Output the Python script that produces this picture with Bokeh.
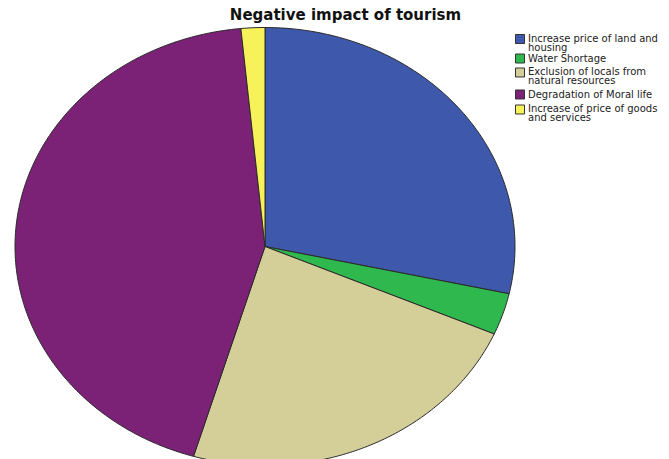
import numpy as np
from bokeh.plotting import figure
from bokeh.models import Range1d
from bokeh.core.properties import value
from bokeh.embed import file_html
from bokeh.resources import INLINE

title = "Negative impact of tourism"
categories = [
    "Increase price of land and\nhousing",
    "Water Shortage",
    "Exclusion of locals from\nnatural resources",
    "Degradation of Moral life",
    "Increase of price of goods\nand services",
]
counts = [37, 4, 30, 57, 2]
colors = ["#3e58ab", "#2fb84e", "#d4cf98", "#7b2277", "#f8f25a"]

W, H = 669, 459
p = figure(width=W, height=H, output_backend="svg", toolbar_location=None,
           x_range=Range1d(0, W), y_range=Range1d(H, 0), min_border=0)
p.axis.visible = False
p.grid.visible = False
p.outline_line_color = None
p.background_fill_color = "white"
p.border_fill_color = "white"

cx, cy, rx, ry = 264.5, 246, 250, 219
vals = np.array(counts, dtype=float)
frac = vals / vals.sum()
edges = np.concatenate([[0], np.cumsum(frac)])
xs, ys = [], []
for i in range(len(vals)):
    a0 = np.pi / 2 - 2 * np.pi * edges[i]
    a1 = np.pi / 2 - 2 * np.pi * edges[i + 1]
    n = max(3, int(abs(a1 - a0) * 80))
    t = np.linspace(a0, a1, n)
    xs.append([cx] + list(cx + rx * np.cos(t)) + [cx])
    ys.append([cy] + list(cy - ry * np.sin(t)) + [cy])
p.patches(xs, ys, fill_color=colors, line_color="#2a2a2a", line_width=1)

p.text(x=[345], y=[5], text=[title], text_font=value("DejaVu Sans"),
       text_font_size="15px", text_font_style="bold", text_align="center",
       text_baseline="top", text_color="#111111")

# legend
lx = 519.5
sq_y = [38.5, 58, 72, 94, 109]
tx_y = [32.5, 52.5, 65.5, 88.5, 102.5]
p.rect(x=[lx] * 5, y=sq_y, width=9, height=9, fill_color=colors,
       line_color="#333333", line_width=1)
p.text(x=[lx + 8] * 5, y=tx_y, text=categories, text_font=value("DejaVu Sans"),
       text_font_size="10px", text_baseline="top", text_align="left",
       text_color="#222222", text_line_height=0.85)

open("out.html", "w").write(file_html(p, INLINE))
